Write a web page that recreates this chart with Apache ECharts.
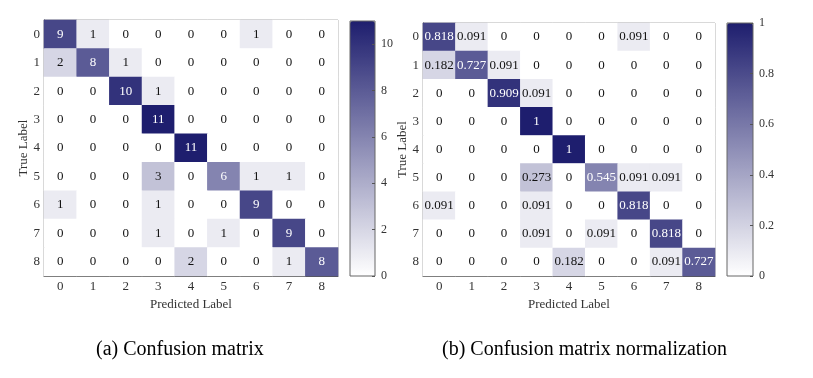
<!DOCTYPE html>
<html>
<head>
<meta charset="utf-8">
<script src="https://cdn.jsdelivr.net/npm/echarts@6/dist/echarts.min.js"></script>
<style>
html,body{margin:0;padding:0;background:#fff;}
#chart{width:813px;height:378px;}
</style>
</head>
<body>
<div id="chart"></div>
<script>
const classLabels = ['0','1','2','3','4','5','6','7','8'];
const countMatrix = [
  [9,1,0,0,0,0,1,0,0],
  [2,8,1,0,0,0,0,0,0],
  [0,0,10,1,0,0,0,0,0],
  [0,0,0,11,0,0,0,0,0],
  [0,0,0,0,11,0,0,0,0],
  [0,0,0,3,0,6,1,1,0],
  [1,0,0,1,0,0,9,0,0],
  [0,0,0,1,0,1,0,9,0],
  [0,0,0,0,2,0,0,1,8]
];
const normMatrix = [
  [0.818,0.091,0,0,0,0,0.091,0,0],
  [0.182,0.727,0.091,0,0,0,0,0,0],
  [0,0,0.909,0.091,0,0,0,0,0],
  [0,0,0,1,0,0,0,0,0],
  [0,0,0,0,1,0,0,0,0],
  [0,0,0,0.273,0,0.545,0.091,0.091,0],
  [0.091,0,0,0.091,0,0,0.818,0,0],
  [0,0,0,0.091,0,0.091,0,0.818,0],
  [0,0,0,0,0.182,0,0,0.091,0.727]
];
const countTicks = {min:0, max:11, interval:2};
const normTicks = {min:0, max:1, interval:0.2};
const captions = ['(a) Confusion matrix', '(b) Confusion matrix normalization'];

const FONT = '"Liberation Serif","Times New Roman",serif';
const DARK = '#1e1e6e';

function toData(mat, max, fmt) {
  const out = [];
  mat.forEach((row, r) => row.forEach((v, c) => {
    out.push({value:[c, r, v], label:{color: v/max > 0.5 ? '#ffffff' : '#111111', formatter: fmt(v)}});
  }));
  return out;
}
const fmtCount = v => String(v);
const fmtNorm = v => (v === 0 ? '0' : v === 1 ? '1' : v.toFixed(3));

const grids = [
  {left:44, top:20, width:294, height:256},
  {left:423, top:23, width:292, height:253}
];
const bars = [
  {left:350, top:21, width:25, height:255},
  {left:727, top:23, width:26, height:253}
];

const option = {
  animation:false,
  backgroundColor:'#fff',
  textStyle:{fontFamily:FONT},
  grid: [
    ...grids.map(g => ({...g, show:true, borderColor:'#999', borderWidth:1, backgroundColor:'transparent'})),
    ...bars.map(b => ({...b, show:true, borderColor:'#666', borderWidth:1, backgroundColor:'transparent', z:10})),
    // thin strip at the right edge of each colour bar carrying its tick axis
    ...bars.map(b => ({left:b.left + b.width - 3, top:b.top, width:3, height:b.height, show:false}))
  ],
  xAxis: [
    ...[0,1].map(i => ({
      type:'category', gridIndex:i, data:classLabels, position:'bottom',
      name:'Predicted Label', nameLocation:'middle', nameGap:14,
      nameTextStyle:{fontFamily:FONT, fontSize:13, color:'#333'},
      axisLine:{show:true, lineStyle:{color:'#555', width:1}},
      axisTick:{show:false}, splitLine:{show:false},
      axisLabel:{fontFamily:FONT, fontSize:13, color:'#333', margin:4}
    })),
    ...[2,3,4,5].map(i => ({type:'value', gridIndex:i, show:false}))
  ],
  yAxis: [
    ...[0,1].map(i => ({
      type:'category', gridIndex:i, data:classLabels, inverse:true,
      name:'True Label', nameLocation:'middle', nameGap:3, nameRotate:90,
      nameTextStyle:{fontFamily:FONT, fontSize:13, color:'#333'},
      axisLine:{show:true, lineStyle:{color:'#555', width:1}},
      axisTick:{show:false}, splitLine:{show:false},
      axisLabel:{fontFamily:FONT, fontSize:13, color:'#333', margin:4}
    })),
    {type:'value', gridIndex:2, show:false, min:countTicks.min, max:countTicks.max},
    {type:'value', gridIndex:3, show:false, min:normTicks.min, max:normTicks.max},
    {type:'value', gridIndex:4, position:'left', min:countTicks.min, max:countTicks.max, interval:countTicks.interval, z:20,
     axisLine:{show:false}, splitLine:{show:false},
     axisTick:{show:true, inside:true, length:3, lineStyle:{color:'#555'}},
     axisLabel:{inside:true, fontFamily:FONT, fontSize:12, color:'#333', margin:9, showMaxLabel:false}},
    {type:'value', gridIndex:5, position:'left', min:normTicks.min, max:normTicks.max, interval:normTicks.interval, z:20,
     axisLine:{show:false}, splitLine:{show:false},
     axisTick:{show:true, inside:true, length:3, lineStyle:{color:'#555'}},
     axisLabel:{inside:true, fontFamily:FONT, fontSize:12, color:'#333', margin:9, formatter: v => (v===0||v===1)? String(v) : v.toFixed(1)}}
  ],
  visualMap: [
    {type:'continuous', seriesIndex:0, min:countTicks.min, max:countTicks.max, calculable:false, show:true,
     left:bars[0].left, top:bars[0].top, itemWidth:bars[0].width, itemHeight:bars[0].height, padding:0,
     text:null, showLabel:false, inRange:{color:['#ffffff', DARK]}},
    {type:'continuous', seriesIndex:1, min:normTicks.min, max:normTicks.max, calculable:false, show:true,
     left:bars[1].left, top:bars[1].top, itemWidth:bars[1].width, itemHeight:bars[1].height, padding:0,
     text:null, showLabel:false, inRange:{color:['#ffffff', DARK]}}
  ],
  title: [
    {text:captions[0], left:96, top:340, padding:0, textStyle:{fontFamily:FONT, fontSize:20, fontWeight:'normal', color:'#000'}},
    {text:captions[1], left:442, top:340, padding:0, textStyle:{fontFamily:FONT, fontSize:20, fontWeight:'normal', color:'#000'}}
  ],
  series: [
    {type:'heatmap', xAxisIndex:0, yAxisIndex:0, data:toData(countMatrix, countTicks.max, fmtCount),
     label:{show:true, fontFamily:FONT, fontSize:13}, itemStyle:{borderWidth:0}, emphasis:{disabled:true}},
    {type:'heatmap', xAxisIndex:1, yAxisIndex:1, data:toData(normMatrix, normTicks.max, fmtNorm),
     label:{show:true, fontFamily:FONT, fontSize:13}, itemStyle:{borderWidth:0}, emphasis:{disabled:true}}
  ]
};
const chart = echarts.init(document.getElementById('chart'), null, {renderer:'canvas'});
chart.setOption(option);
</script>
</body>
</html>
